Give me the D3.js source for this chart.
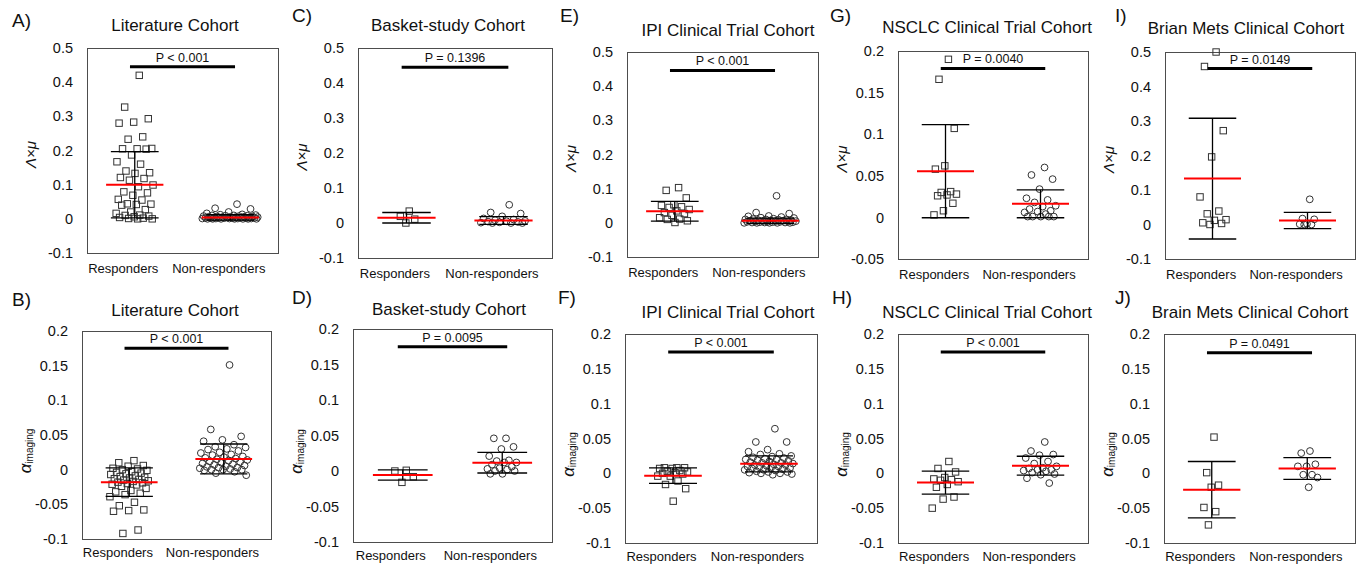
<!DOCTYPE html>
<html>
<head>
<meta charset="UTF-8">
<title>Responders vs non-responders</title>
<script src="https://cdn.jsdelivr.net/npm/d3@7"></script>
<style>
  body { margin: 0; background: #fff; }
  svg { font-family: "Liberation Sans", Arial, sans-serif; background: #fff; }
  .frame { fill: none; stroke: #4d4d4d; stroke-width: 1px; }
  .tick text { font-size: 14.5px; fill: #111; }
  .title { font-size: 17px; fill: #111; }
  .letter { font-size: 19px; fill: #111; }
  .cat { font-size: 13px; fill: #111; }
  .pval { font-size: 12.5px; fill: #111; }
  .ylab { fill: #111; }
  .pt { fill: none; stroke: #333; stroke-width: 1px; }
  .mean { stroke: #ff0000; stroke-width: 2px; }
  .sd { stroke: #000; stroke-width: 1.3px; }
  .sig { stroke: #000; stroke-width: 3px; }
</style>
</head>
<body>
<svg id="chart" width="1363" height="564"></svg>
<script>
// categories on the x axis
var categories = ["Responders", "Non-responders"];

// Literature cohort
var litRespLM = [0.42, 0.327, 0.293, 0.283, 0.28, 0.24, 0.233, 0.206, 0.205, 0.205, 0.204, 0.187, 0.167, 0.16, 0.14, 0.135, 0.133, 0.121, 0.118, 0.113, 0.099, 0.094, 0.079, 0.076, 0.069, 0.057, 0.055, 0.044, 0.043, 0.042, 0.04, 0.027, 0.02, 0.016, 0.011, 0.01, 0.008, 0.006, 0.004, 0.002, 0.001, 0.0, 0.0];
var litNonLM = [0.043, 0.031, 0.029, 0.02, 0.016, 0.013, 0.012, 0.011, 0.01, 0.01, 0.009, 0.009, 0.008, 0.008, 0.007, 0.007, 0.006, 0.006, 0.006, 0.005, 0.005, 0.005, 0.004, 0.004, 0.004, 0.003, 0.003, 0.003, 0.003, 0.002, 0.002, 0.002, 0.002, 0.001, 0.001, 0.001, 0.001, 0.001, 0.0, 0.0, 0.0, 0.0, 0.0, 0.0, 0.0];
var litMeanLM = [0.100, 0.004], litSdLM = [0.097, 0.008];
var litRespAI = [0.013, 0.01, 0.006, 0.005, 0.002, 0.001, 0.0, -0.001, -0.003, -0.004, -0.005, -0.006, -0.007, -0.009, -0.01, -0.011, -0.012, -0.013, -0.014, -0.015, -0.016, -0.017, -0.018, -0.019, -0.02, -0.021, -0.022, -0.024, -0.027, -0.03, -0.032, -0.034, -0.036, -0.039, -0.047, -0.052, -0.058, -0.059, -0.06, -0.087, -0.092];
var litNonAI = [0.151, 0.058, 0.048, 0.043, 0.041, 0.036, 0.033, 0.032, 0.03, 0.029, 0.027, 0.025, 0.024, 0.022, 0.021, 0.019, 0.018, 0.017, 0.016, 0.015, 0.014, 0.013, 0.012, 0.011, 0.01, 0.009, 0.008, 0.007, 0.006, 0.005, 0.004, 0.003, 0.003, 0.002, 0.001, 0.0, 0.0, 0.0, -0.001, -0.003, -0.005, -0.008];
var litMeanAI = [-0.018, 0.0155], litSdAI = [0.0205, 0.0215];

// Basket-study cohort
var basketRespLM = [0.034, 0.019, 0.011, 0.0];
var basketNonLM = [0.052, 0.03, 0.027, 0.019, 0.013, 0.01, 0.008, 0.006, 0.005, 0.004, 0.003, 0.002, 0.001, 0.0, 0.0, 0.0];
var basketMeanLM = [0.015, 0.007], basketSdLM = [0.015, 0.011];
var basketRespAI = [0.001, 0.0, -0.008, -0.016];
var basketNonAI = [0.046, 0.046, 0.034, 0.031, 0.021, 0.015, 0.014, 0.012, 0.012, 0.009, 0.006, 0.004, 0.003, 0.002, 0.0, 0.0, -0.004, -0.004];
var basketMeanAI = [-0.0056, 0.0117], basketSdAI = [0.0072, 0.0145];

// IPI clinical trial cohort
var ipiRespLM = [0.103, 0.095, 0.073, 0.053, 0.051, 0.047, 0.045, 0.039, 0.035, 0.03, 0.027, 0.022, 0.015, 0.011, 0.01, 0.006, 0.001];
var ipiNonLM = [0.079, 0.03, 0.027, 0.02, 0.019, 0.017, 0.015, 0.014, 0.012, 0.011, 0.01, 0.01, 0.01, 0.009, 0.008, 0.008, 0.007, 0.006, 0.006, 0.005, 0.005, 0.005, 0.004, 0.004, 0.003, 0.003, 0.003, 0.002, 0.002, 0.002, 0.001, 0.001, 0.001, 0.0, 0.0, 0.0, 0.0, 0.0];
var ipiMeanLM = [0.034, 0.006], ipiSdLM = [0.029, 0.0075];
var ipiRespAI = [0.008, 0.008, 0.008, 0.007, 0.007, 0.004, 0.003, 0.002, 0.001, 0.0, -0.001, -0.004, -0.004, -0.011, -0.016, -0.022, -0.04];
var ipiNonAI = [0.064, 0.045, 0.045, 0.034, 0.031, 0.028, 0.027, 0.025, 0.024, 0.023, 0.022, 0.021, 0.02, 0.02, 0.019, 0.018, 0.017, 0.016, 0.015, 0.015, 0.014, 0.013, 0.012, 0.012, 0.011, 0.01, 0.01, 0.009, 0.008, 0.008, 0.007, 0.006, 0.005, 0.005, 0.004, 0.003, 0.002, 0.002, 0.001, 0.0, 0.0, -0.001, -0.002];
var ipiMeanAI = [-0.0033, 0.0137], ipiSdAI = [0.011, 0.0115];

// NSCLC clinical trial cohort
var nsclcRespLM = [0.19, 0.166, 0.107, 0.062, 0.058, 0.031, 0.03, 0.028, 0.027, 0.026, 0.017, 0.008, 0.003];
var nsclcNonLM = [0.06, 0.051, 0.046, 0.034, 0.023, 0.021, 0.018, 0.014, 0.013, 0.01, 0.008, 0.007, 0.006, 0.004, 0.001, 0.001, 0.001, 0.001, 0.001];
var nsclcMeanLM = [0.0556, 0.0164], nsclcSdLM = [0.056, 0.0168];
var nsclcRespAI = [0.017, 0.007, 0.002, -0.006, -0.008, -0.009, -0.01, -0.012, -0.016, -0.02, -0.034, -0.037, -0.05];
var nsclcNonAI = [0.045, 0.032, 0.027, 0.026, 0.022, 0.017, 0.014, 0.01, 0.008, 0.007, 0.005, 0.005, 0.004, 0.003, 0.001, -0.001, -0.002, -0.007, -0.014];
var nsclcMeanAI = [-0.0133, 0.011], nsclcSdAI = [0.0165, 0.0135];

// Brain mets clinical cohort
var brainRespLM = [0.5, 0.458, 0.272, 0.196, 0.08, 0.039, 0.031, 0.014, 0.012, 0.005, 0.003, 0.0];
var brainNonLM = [0.073, 0.017, 0.015, 0.002, 0.001, 0.0, 0.0];
var brainMeanLM = [0.133, 0.0117], brainSdLM = [0.175, 0.0235];
var brainRespAI = [0.052, 0.001, -0.017, -0.02, -0.049, -0.055, -0.074];
var brainNonAI = [0.032, 0.029, 0.013, 0.01, 0.01, -0.002, -0.002, -0.006, -0.02];
var brainMeanAI = [-0.0235, 0.007], brainSdAI = [0.0405, 0.0156];

// p-value labels
var pLabels = ["P < 0.001", "P = 0.1396", "P < 0.001", "P = 0.0040", "P = 0.0149",
               "P < 0.001", "P = 0.0095", "P < 0.001", "P < 0.001", "P = 0.0491"];

// panel layout (frame = x0, y0, x1, y1 in px)
var panels = [
  {letter: "A)", title: "Literature Cohort", kind: "lm", resp: litRespLM, non: litNonLM, mean: litMeanLM, sd: litSdLM, p: pLabels[0],
   frame: [87, 48, 278, 253], tx: 175, ty: 25, lx: 12, ly: 20, dom: [-0.1, 0.5], step: 0.1, sigY: 0.445, spread: [0.2, 0.3]},
  {letter: "C)", title: "Basket-study Cohort", kind: "lm", resp: basketRespLM, non: basketNonLM, mean: basketMeanLM, sd: basketSdLM, p: pLabels[1],
   frame: [358, 48, 552, 258], tx: 448, ty: 25, lx: 292, ly: 15, dom: [-0.1, 0.5], step: 0.1, sigY: 0.445, spread: [0.12, 0.25]},
  {letter: "E)", title: "IPI Clinical Trial Cohort", kind: "lm", resp: ipiRespLM, non: ipiNonLM, mean: ipiMeanLM, sd: ipiSdLM, p: pLabels[2],
   frame: [627, 52, 818, 257], tx: 728, ty: 30, lx: 560, ly: 15, dom: [-0.1, 0.5], step: 0.1, sigY: 0.446, spread: [0.17, 0.28]},
  {letter: "G)", title: "NSCLC Clinical Trial Cohort", kind: "lm", resp: nsclcRespLM, non: nsclcNonLM, mean: nsclcMeanLM, sd: nsclcSdLM, p: pLabels[3],
   frame: [898, 51, 1088, 259], tx: 987, ty: 27, lx: 830, ly: 15, dom: [-0.05, 0.2], step: 0.05, sigY: 0.179, spread: [0.13, 0.18]},
  {letter: "I)", title: "Brian Mets Clinical Cohort", kind: "lm", resp: brainRespLM, non: brainNonLM, mean: brainMeanLM, sd: brainSdLM, p: pLabels[4],
   frame: [1165, 52, 1355, 259], tx: 1246, ty: 28, lx: 1115, ly: 15, dom: [-0.1, 0.5], step: 0.1, sigY: 0.452, spread: [0.16, 0.1]},
  {letter: "B)", title: "Literature Cohort", kind: "ai", resp: litRespAI, non: litNonAI, mean: litMeanAI, sd: litSdAI, p: pLabels[5],
   frame: [82, 331, 271, 539], tx: 175, ty: 310, lx: 12, ly: 299, dom: [-0.1, 0.2], step: 0.05, sigY: 0.175, spread: [0.21, 0.26]},
  {letter: "D)", title: "Basket-study Cohort", kind: "ai", resp: basketRespAI, non: basketNonAI, mean: basketMeanAI, sd: basketSdAI, p: pLabels[6],
   frame: [353, 329, 552, 542], tx: 449, ty: 309, lx: 292, ly: 297, dom: [-0.1, 0.2], step: 0.05, sigY: 0.175, spread: [0.15, 0.16]},
  {letter: "F)", title: "IPI Clinical Trial Cohort", kind: "ai", resp: ipiRespAI, non: ipiNonAI, mean: ipiMeanAI, sd: ipiSdAI, p: pLabels[7],
   frame: [625, 334, 817, 543], tx: 728, ty: 312, lx: 558, ly: 297, dom: [-0.1, 0.2], step: 0.05, sigY: 0.174, spread: [0.17, 0.26]},
  {letter: "H)", title: "NSCLC Clinical Trial Cohort", kind: "ai", resp: nsclcRespAI, non: nsclcNonAI, mean: nsclcMeanAI, sd: nsclcSdAI, p: pLabels[8],
   frame: [898, 334, 1088, 543], tx: 987, ty: 312, lx: 832, ly: 297, dom: [-0.1, 0.2], step: 0.05, sigY: 0.174, spread: [0.15, 0.19]},
  {letter: "J)", title: "Brain Mets Clinical Cohort", kind: "ai", resp: brainRespAI, non: brainNonAI, mean: brainMeanAI, sd: brainSdAI, p: pLabels[9],
   frame: [1164, 334, 1355, 543], tx: 1250, ty: 312, lx: 1115, ly: 297, dom: [-0.1, 0.2], step: 0.05, sigY: 0.173, spread: [0.1, 0.12]}
];

var svg = d3.select("#chart");

function fmt(d) {
  var v = Math.round(d * 1000) / 1000;
  return v === 0 ? "0" : String(v);
}

// spread points sideways with a golden-ratio sequence (sorted order)
function jitter(i, spread) {
  return (((i + 1) * 0.618034) % 1 - 0.5) * 2 * spread;
}

panels.forEach(function(p) {
  var f = p.frame;
  var g = svg.append("g");

  var x = d3.scaleLinear().domain([0.5, 2.5]).range([f[0], f[2]]);
  var y = d3.scaleLinear().domain(p.dom).range([f[3], f[1]]);

  // frame
  g.append("rect").attr("class", "frame")
    .attr("x", f[0] + 0.5).attr("y", f[1] + 0.5)
    .attr("width", f[2] - f[0]).attr("height", f[3] - f[1]);

  // y axis (labels only)
  var tv = d3.range(0, Math.round((p.dom[1] - p.dom[0]) / p.step) + 1).map(function(k) { return p.dom[0] + k * p.step; });
  var ax = g.append("g").attr("transform", "translate(" + f[0] + ",0)")
    .call(d3.axisLeft(y).tickValues(tv).tickFormat(fmt).tickSize(0).tickPadding(14));
  ax.attr("font-size", null).attr("font-family", null);
  ax.select(".domain").remove();

  // y axis title
  var cy = (f[1] + f[3]) / 2 + (p.kind === "lm" ? 4 : 16);
  var yl = g.append("text").attr("class", "ylab")
    .attr("transform", "translate(" + (f[0] - 57) + "," + cy + ") rotate(-90)")
    .attr("text-anchor", "middle").attr("dominant-baseline", "central");
  if (p.kind === "lm") {
    yl.attr("font-size", "15px").attr("font-style", "italic").text("\u039B\u00D7\u03BC");
  } else {
    yl.append("tspan").attr("font-size", "17px").attr("font-style", "italic").text("\u03B1");
    yl.append("tspan").attr("font-size", "10px").attr("dy", 4).text("imaging");
  }

  // panel letter and title
  g.append("text").attr("class", "letter").attr("x", p.lx).attr("y", p.ly)
    .attr("dominant-baseline", "central").text(p.letter);
  g.append("text").attr("class", "title").attr("x", p.tx).attr("y", p.ty)
    .attr("text-anchor", "middle").attr("dominant-baseline", "central").text(p.title);

  // category labels
  g.selectAll(".cat").data(categories).enter().append("text")
    .attr("class", "cat")
    .attr("x", function(d, i) { return x(i + 1 - 0.12); })
    .attr("y", f[3] + (p.kind === "lm" ? 15 : 13))
    .attr("text-anchor", "middle").attr("dominant-baseline", "central")
    .text(function(d) { return d; });

  // points
  var groups = [p.resp, p.non];
  groups.forEach(function(vals, gi) {
    var sorted = vals.slice().sort(d3.descending);
    var pts = sorted.map(function(v, i) { return {v: v, xv: gi + 1 + jitter(i, p.spread[gi])}; });
    if (gi === 0) {
      g.selectAll(".sq" + gi).data(pts).enter().append("rect")
        .attr("class", "pt")
        .attr("x", function(d) { return x(d.xv) - 3.2; })
        .attr("y", function(d) { return y(d.v) - 3.2; })
        .attr("width", 6.4).attr("height", 6.4);
    } else {
      g.selectAll(".ci" + gi).data(pts).enter().append("circle")
        .attr("class", "pt")
        .attr("cx", function(d) { return x(d.xv); })
        .attr("cy", function(d) { return y(d.v); })
        .attr("r", 3.4);
    }
  });

  // mean +/- sd
  [0, 1].forEach(function(gi) {
    var m = p.mean[gi], s = p.sd[gi], c = gi + 1;
    g.append("line").attr("class", "sd")
      .attr("x1", x(c)).attr("x2", x(c)).attr("y1", y(m - s)).attr("y2", y(m + s)).attr("stroke-width", 1);
    [m - s, m + s].forEach(function(v) {
      g.append("line").attr("class", "sd")
        .attr("x1", x(c - 0.25)).attr("x2", x(c + 0.25)).attr("y1", y(v)).attr("y2", y(v));
    });
    g.append("line").attr("class", "mean")
      .attr("x1", x(c - 0.3)).attr("x2", x(c + 0.3)).attr("y1", y(m)).attr("y2", y(m));
  });

  // significance bar
  g.append("line").attr("class", "sig")
    .attr("x1", x(0.95)).attr("x2", x(2.05)).attr("y1", y(p.sigY)).attr("y2", y(p.sigY));
  g.append("text").attr("class", "pval")
    .attr("x", x(1.5)).attr("y", y(p.sigY) - 5)
    .attr("text-anchor", "middle").text(p.p);
});
</script>
</body>
</html>
